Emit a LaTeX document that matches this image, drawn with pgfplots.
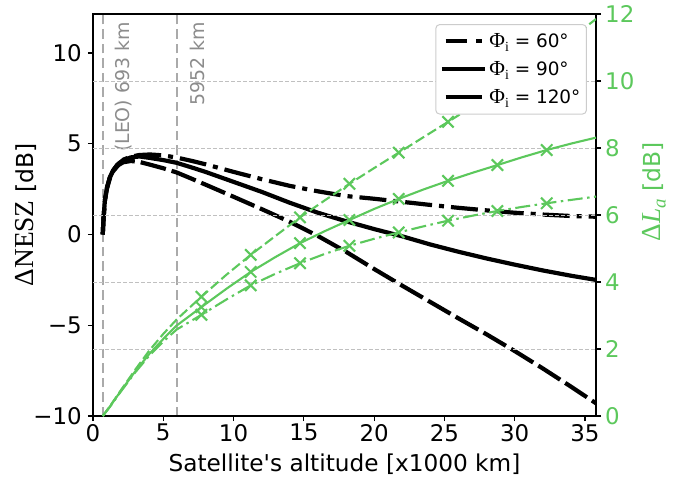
\documentclass[border=0pt]{standalone}
\usepackage{fontspec}
\setmainfont{DejaVu Sans}
\newfontfamily\seriffont{Liberation Serif}
\usepackage{pgfplots}
\usepackage{pgfplotstable}
\pgfplotsset{compat=1.18}
\definecolor{lgreen}{RGB}{92,200,92}
\definecolor{gridgray}{RGB}{192,192,192}
\definecolor{vgray}{RGB}{170,170,170}
\definecolor{txtgray}{RGB}{140,140,140}

% black curves: Delta NESZ [dB]
\pgfplotstableread{
x y
0.693 0
0.75 0.9
0.85 1.9
1.0 2.6
1.2 3.15
1.45 3.55
1.8 3.92
2.15 4.12
2.7 4.29
3.3 4.38
4.05 4.41
5.0 4.36
5.95 4.24
7.0 4.06
8.0 3.87
10.0 3.45
12.0 3.05
14.0 2.68
16.0 2.38
18.0 2.12
20.0 1.97
22.0 1.80
24.0 1.63
26.0 1.47
28.0 1.33
30.0 1.20
32.0 1.10
34.0 1.02
35.786 0.98
}\nescA
\pgfplotstableread{
x y
0.693 0
0.75 0.9
0.85 1.9
1.0 2.6
1.2 3.15
1.45 3.55
1.8 3.9
2.15 4.1
2.7 4.25
3.3 4.3
4.05 4.22
5.0 4.1
5.95 3.95
7.0 3.7
8.0 3.45
10.0 2.9
12.0 2.35
14.0 1.75
16.0 1.2
18.0 0.73
20.0 0.3
22.0 -0.1
24.0 -0.55
26.0 -0.95
28.0 -1.32
30.0 -1.66
32.0 -1.98
34.0 -2.27
35.786 -2.5
}\nescB
\pgfplotstableread{
x y
0.693 0
0.75 0.9
0.85 1.9
1.0 2.55
1.2 3.1
1.45 3.5
1.8 3.82
2.15 3.98
2.7 4.05
3.3 4.0
4.05 3.85
5.0 3.65
5.95 3.42
7.0 3.08
8.0 2.75
10.0 2.08
12.0 1.4
14.0 0.7
16.0 -0.08
18.0 -0.95
20.0 -1.9
22.0 -2.82
24.0 -3.72
26.0 -4.62
28.0 -5.5
30.0 -6.42
32.0 -7.38
34.0 -8.38
35.786 -9.3
}\nescC

% green curves: Delta L_a [dB]
\pgfplotstableread{
x y
0.693 0
1.2 0.27
2 0.74
3 1.3
4 1.8
5 2.22
5.95 2.58
7.71 3.02
9.5 3.48
11.22 3.9
13 4.25
14.73 4.56
16.5 4.84
18.24 5.08
20 5.29
21.75 5.48
23.5 5.66
25.26 5.83
27 5.98
28.77 6.12
30.5 6.24
32.28 6.35
34 6.45
35.786 6.55
}\laA
\pgfplotstableread{
x y
0.693 0
1.2 0.28
2 0.76
3 1.33
4 1.85
5 2.3
5.95 2.7
7.71 3.25
9.5 3.8
11.22 4.3
13 4.75
14.73 5.16
16.5 5.52
18.24 5.85
20 6.18
21.75 6.48
23.5 6.76
25.26 7.02
27 7.26
28.77 7.49
30.5 7.72
32.28 7.94
34 8.13
35.786 8.31
}\laB
\pgfplotstableread{
x y
0.693 0
1.2 0.29
2 0.78
3 1.38
4 1.95
5 2.45
5.95 2.88
7.71 3.56
9.5 4.22
11.22 4.81
13 5.38
14.73 5.93
16.5 6.44
18.24 6.93
20 7.4
21.75 7.86
23.5 8.32
25.26 8.78
27 9.24
28.77 9.7
30.5 10.2
32.28 10.72
34 11.27
35.786 11.85
}\laC
\pgfplotstableread{
x a b c
7.71 3.02 3.25 3.56
11.22 3.9 4.3 4.81
14.73 4.56 5.16 5.93
18.24 5.08 5.85 6.93
21.75 5.48 6.48 7.86
25.26 5.83 7.02 8.78
28.77 6.12 7.49 9.7
32.28 6.35 7.94 10.72
}\laMarks

\pgfplotsset{
  common/.style={
    scale only axis, width=503bp, height=402bp,
    xmin=0, xmax=35.786,
    tick align=outside, major tick length=5bp,
    every tick/.style={black, line width=1.1bp},
    axis line style={line width=1.1bp, black},
    tick label style={font=\fontsize{23}{23}\selectfont},
    /pgf/number format/assume math mode=true,
  },
  dashdotA/.style={dash pattern=on 27bp off 7bp on 5bp off 7bp},
  dashedA/.style={dash pattern=on 26bp off 6bp},
  gdashdot/.style={dash pattern=on 15bp off 4.5bp on 2.5bp off 4.5bp},
  gdashed/.style={dash pattern=on 10bp off 4bp},
  gmark/.style={lgreen, only marks, mark=x, mark size=8bp, mark options={solid, line width=2.1bp}, forget plot},
}

\begin{document}
\begin{tikzpicture}
\useasboundingbox (-93bp,-62bp) rectangle (596bp,416bp);
\begin{axis}[common,
  ymin=-10, ymax=12.15,
  xtick={0,5,...,35}, ytick={-10,-5,0,5,10},
  yticklabels={−10,−5,0,5,10},
  xtick pos=left, ytick pos=left,
  xticklabel style={anchor=north, inner sep=0pt, yshift=-3bp},
  yticklabel style={anchor=east, inner sep=0pt, xshift=-6bp},
  xlabel={Satellite\textquotesingle s altitude [x1000 km]},
  xlabel style={font=\fontsize{23.3}{23.3}\selectfont, at={(axis description cs:0.5,0)}, anchor=base, yshift=-55bp},
  ylabel={{\fontsize{27.5}{27.5}\selectfont\seriffont ΔNESZ} [dB]},
  ylabel style={font=\fontsize{23.5}{23.5}\selectfont, at={(axis description cs:0,0.5)}, anchor=center, yshift=67bp},
]
\addplot[vgray, line width=2bp, dash pattern=on 9.5bp off 5bp] coordinates {(0.693,-10) (0.693,12.15)};
\addplot[vgray, line width=2bp, dash pattern=on 9.5bp off 5bp] coordinates {(5.952,-10) (5.952,12.15)};
\addplot[black, line width=4.2bp, dashdotA] table[x=x,y=y] {\nescA};
\addplot[black, line width=4.2bp] table[x=x,y=y] {\nescB};
\addplot[black, line width=4.2bp, dashedA] table[x=x,y=y] {\nescC};
\node[rotate=90, anchor=east, inner sep=0pt, text=txtgray, font=\fontsize{19}{19}\selectfont] at (axis cs:2.2,11.71) {(LEO) 693 km};
\node[rotate=90, anchor=east, inner sep=0pt, text=txtgray, font=\fontsize{19}{19}\selectfont] at (axis cs:7.46,11.71) {5952 km};
\end{axis}

\begin{axis}[common,
  ymin=0, ymax=12,
  axis x line*=box, axis y line*=right,
  xtick=\empty,
  ytick={0,2,...,12},
  yticklabel style={anchor=west, inner sep=0pt, text=lgreen, xshift=4bp},
  ymajorgrids,
  grid style={gridgray, line width=0.9bp, dash pattern=on 4bp off 2bp},
  ylabel={{\fontsize{27.5}{27.5}\selectfont\seriffont Δ\textit{L}\raisebox{-0.2em}{\fontsize{19}{19}\selectfont\itshape a}} [dB]},
  ylabel style={font=\fontsize{23.5}{23.5}\selectfont, text=lgreen, at={(axis description cs:1,0.5)}, anchor=center, yshift=-58bp, xshift=23bp},
  legend style={at={(0.982,0.975)}, anchor=north east, draw=black!20, line width=1bp, rounded corners=4bp, fill=white,
    font=\fontsize{18.5}{18.5}\selectfont, inner xsep=4bp, inner ysep=7bp, row sep=8.5bp,
    /tikz/every even column/.append style={column sep=7bp}},
  legend cell align=left,
]
\addlegendimage{legend image code/.code={\draw[black, line width=4.2bp] (3.7bp,0bp) -- (25.3bp,0bp); \draw[black, line width=4.2bp] (34.3bp,0bp) -- (39.7bp,0bp);}}
\addlegendentry{{\fontsize{21.5}{21.5}\selectfont\seriffont Φ}\raisebox{-0.22em}{\fontsize{14}{14}\selectfont\seriffont i} = 60°\hspace{9bp}}
\addlegendimage{legend image code/.code={\draw[black, line width=4.2bp] (0bp,0bp) -- (43.4bp,0bp);}}
\addlegendentry{{\fontsize{21.5}{21.5}\selectfont\seriffont Φ}\raisebox{-0.22em}{\fontsize{14}{14}\selectfont\seriffont i} = 90°\hspace{9bp}}
\addlegendimage{legend image code/.code={\draw[black, line width=4.2bp] (3.7bp,0bp) -- (40.3bp,0bp);}}
\addlegendentry{{\fontsize{21.5}{21.5}\selectfont\seriffont Φ}\raisebox{-0.22em}{\fontsize{14}{14}\selectfont\seriffont i} = 120°\hspace{9bp}}
\addplot[lgreen, line width=2.1bp, gdashdot, forget plot] table[x=x,y=y] {\laA};
\addplot[lgreen, line width=2.1bp, forget plot] table[x=x,y=y] {\laB};
\addplot[lgreen, line width=2.1bp, gdashed, forget plot] table[x=x,y=y] {\laC};
\addplot[gmark] table[x=x,y=a] {\laMarks};
\addplot[gmark] table[x=x,y=b] {\laMarks};
\addplot[gmark] table[x=x,y=c] {\laMarks};
\end{axis}
\end{tikzpicture}
\end{document}
